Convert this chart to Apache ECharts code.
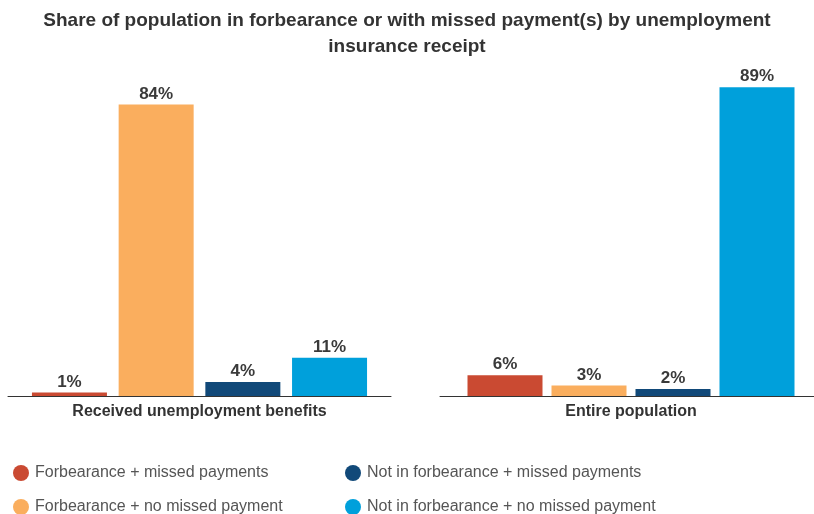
<!DOCTYPE html>
<html><head><meta charset="utf-8">
<script src="https://cdn.jsdelivr.net/npm/echarts@6/dist/echarts.min.js"></script>
<style>html,body{margin:0;padding:0;background:#fff}#c{width:814px;height:514px}</style>
</head><body><div id="c"></div>
<script>
var categories = ['Received unemployment benefits', 'Entire population'];
var seriesNames = ['Forbearance + missed payments', 'Forbearance + no missed payment', 'Not in forbearance + missed payments', 'Not in forbearance + no missed payment'];
var forbMissed = [1, 6];
var forbNoMissed = [84, 3];
var notForbMissed = [4, 2];
var notForbNoMissed = [11, 89];
var colors = ['#CA4A32', '#FAAE5E', '#114979', '#00A0DB'];

var values = [forbMissed, forbNoMissed, notForbMissed, notForbNoMissed];
var FONT = '"Liberation Sans", Arial, sans-serif';
var chart = echarts.init(document.getElementById('c'));
var grids = [
  {left: 8, width: 383, top: 49, height: 347, outerBoundsMode: 'none', containLabel: false},
  {left: 440, width: 382, top: 49, height: 347, outerBoundsMode: 'none', containLabel: false}
];
var gaps = ['15.6%', '12%'];
var xAxes = [], yAxes = [], series = [];
categories.forEach(function (cat, gi) {
  xAxes.push({type: 'category', gridIndex: gi, data: [cat],
    axisLine: {lineStyle: {color: '#333', width: 1}}, axisTick: {show: false},
    axisLabel: {color: '#333', fontWeight: 'bold', fontSize: 16, fontFamily: FONT, margin: 8}});
  yAxes.push({type: 'value', gridIndex: gi, min: 0, max: 100, show: false, splitLine: {show: false}});
  seriesNames.forEach(function (name, si) {
    series.push({type: 'bar', name: name, xAxisIndex: gi, yAxisIndex: gi,
      data: [values[si][gi]], barWidth: 75, barGap: gaps[gi],
      itemStyle: {color: colors[si]},
      label: {show: true, position: 'top', distance: 2, formatter: '{c}%', color: '#3a3a3a',
        fontWeight: 'bold', fontSize: 17, fontFamily: FONT}});
  });
});
var legends = [];
var legPos = [[8, 469], [8, 503], [340, 469], [340, 503]];
seriesNames.forEach(function (name, si) {
  legends.push({data: [name], left: legPos[si][0], top: legPos[si][1] - 9, icon: 'circle',
    itemWidth: 16, itemHeight: 16, itemGap: 0, selectedMode: false,
    textStyle: {color: '#555', fontSize: 16, fontFamily: FONT, padding: [0, 0, 0, 1]}});
});
chart.setOption({
  animation: false,
  title: {text: 'Share of population in forbearance or with missed payment(s) by unemployment\ninsurance receipt',
    left: 'center', top: 3,
    textStyle: {color: '#333', fontWeight: 'bold', fontSize: 19, fontFamily: FONT, lineHeight: 26}},
  color: colors,
  legend: legends,
  grid: grids, xAxis: xAxes, yAxis: yAxes, series: series
});
</script></body></html>
